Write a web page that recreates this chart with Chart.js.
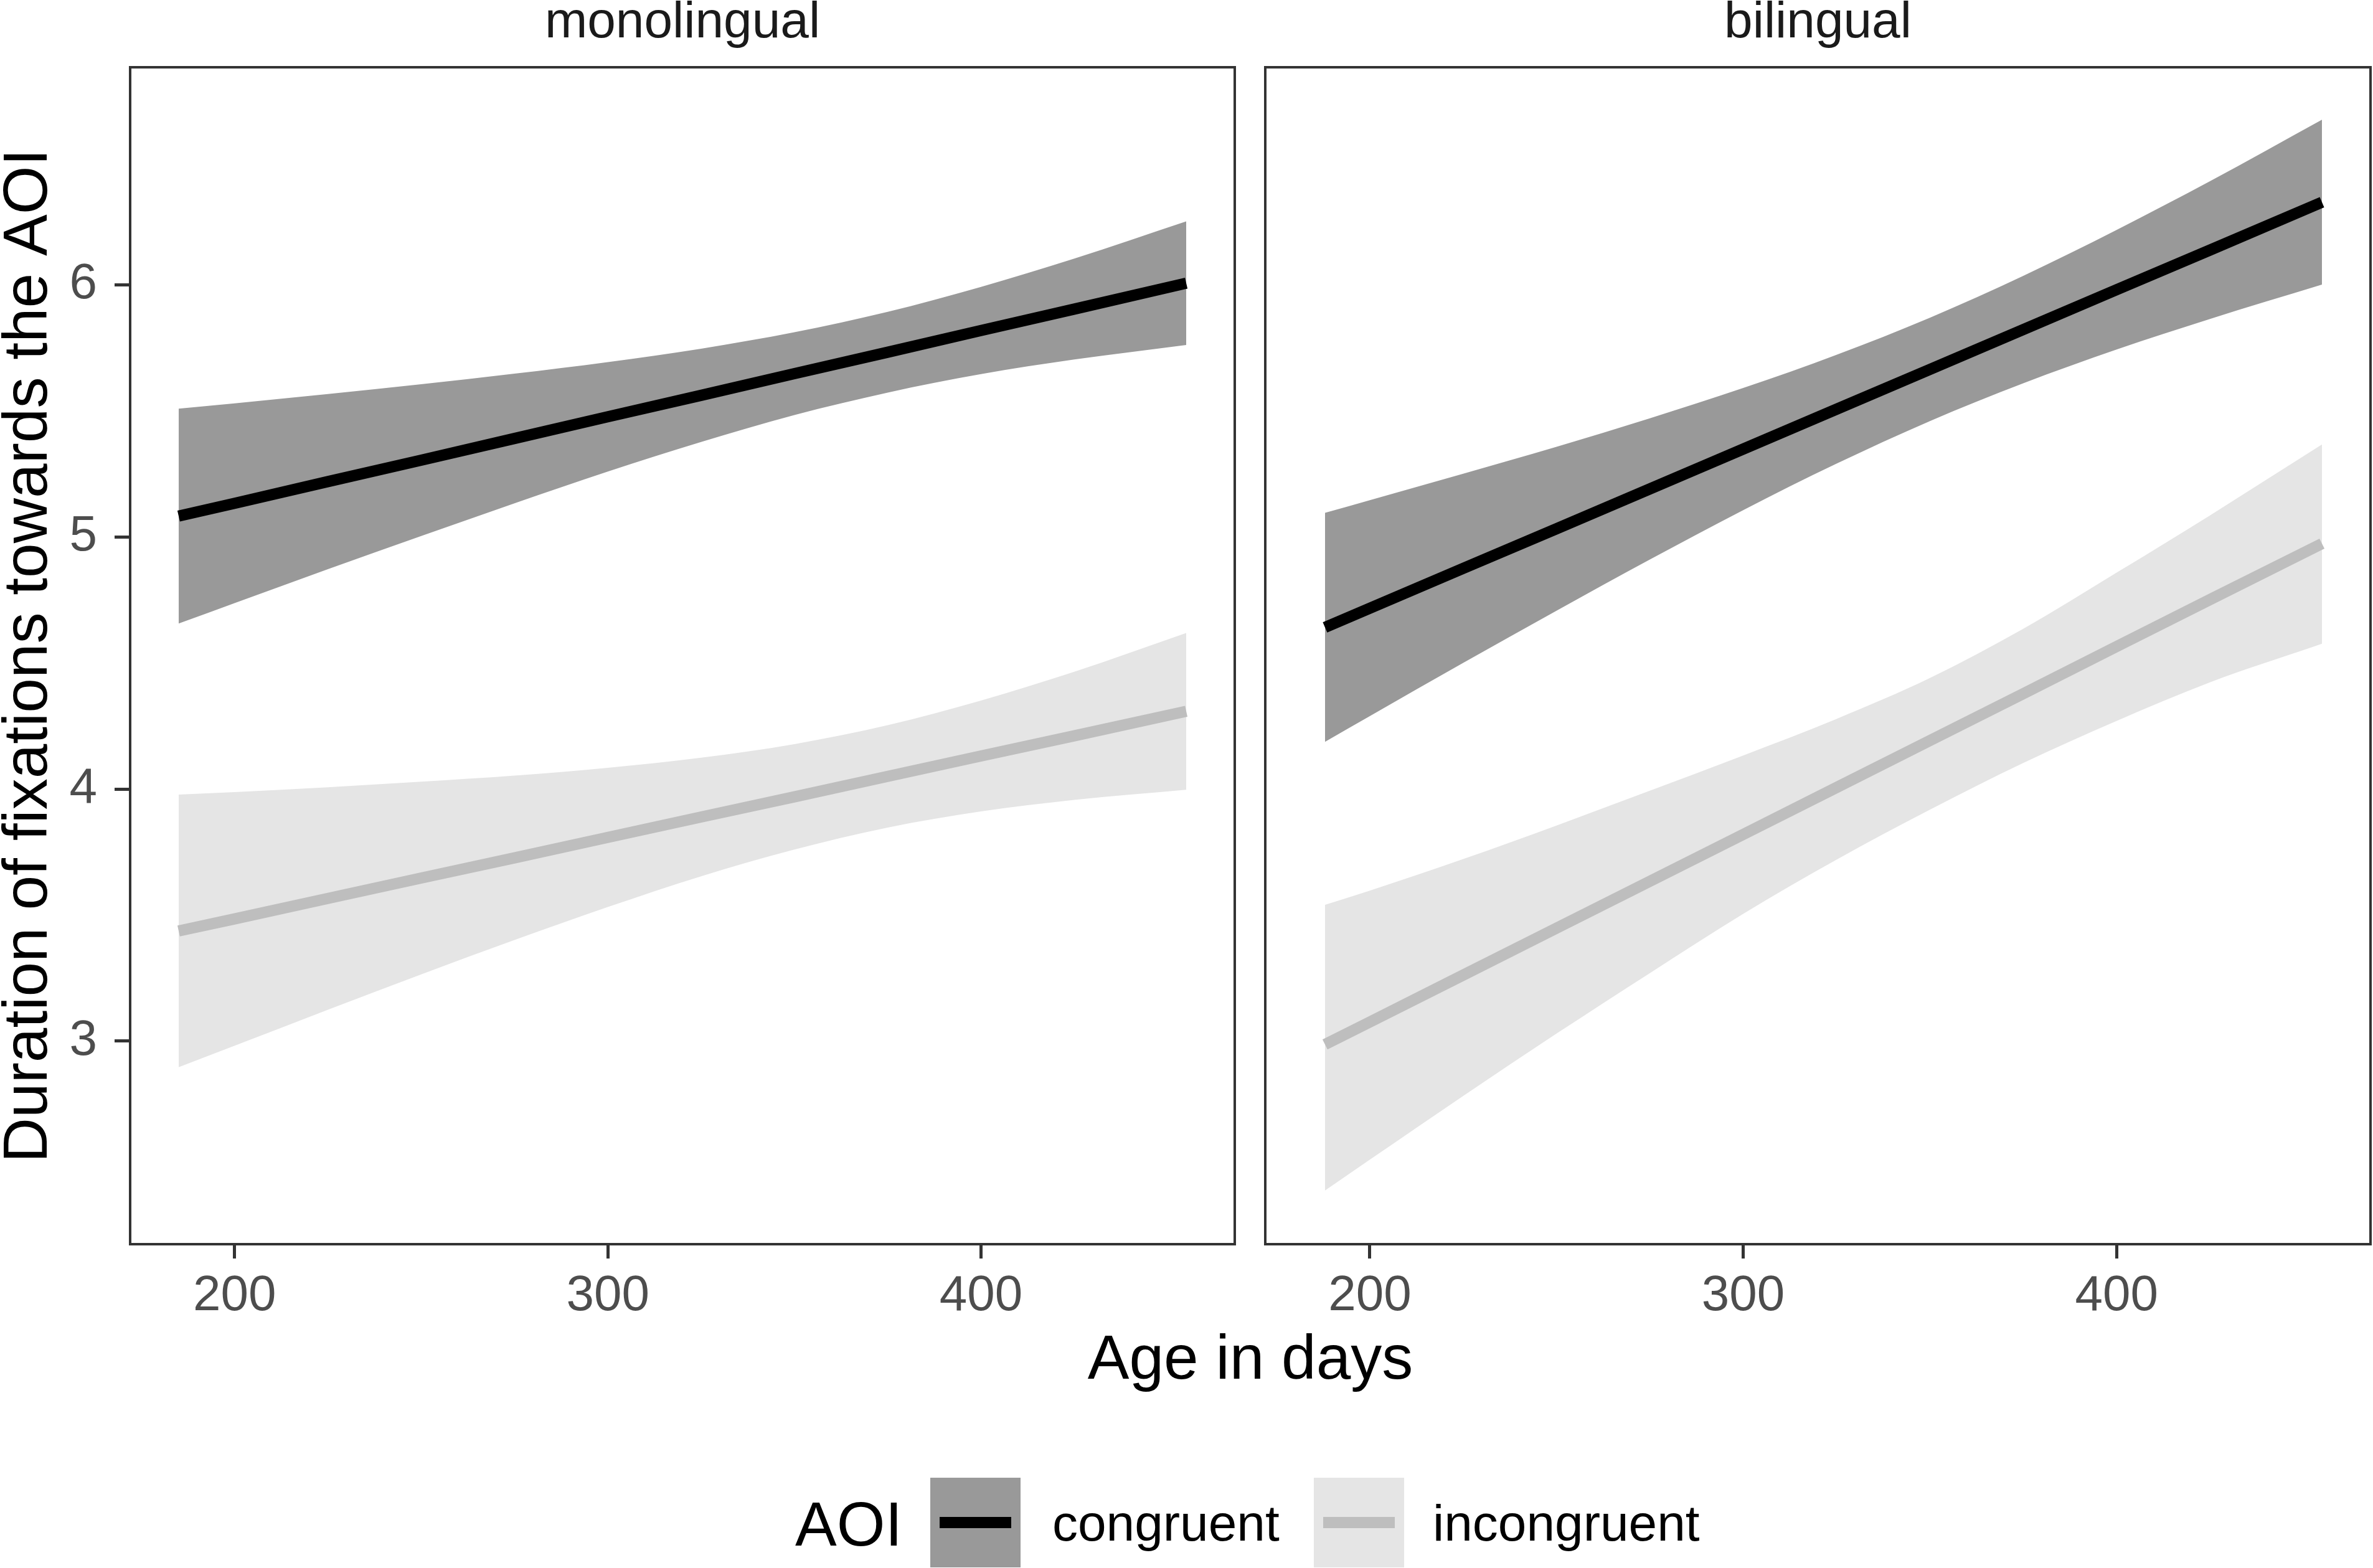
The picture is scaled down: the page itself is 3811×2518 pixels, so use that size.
<!DOCTYPE html>
<html>
<head>
  <title>Duration of fixations by age</title>
  <style>
    body { margin: 0; background: #fff; font-family: 'Liberation Sans', Arial, sans-serif; }
    #wrap { position: relative; width: 3811px; height: 2518px; overflow: hidden; background: #fff; }
    canvas { position: absolute; top: 0; }
    .txt { position: absolute; line-height: 1; white-space: nowrap; color: #000; }
    .key { position: absolute; top: 2373px; width: 145px; height: 144px; }
    .key span { position: absolute; left: 15px; top: 63px; width: 115px; height: 18px; }
  </style>
</head>
<body>
<div id="wrap">
  <canvas id="mono" width="2005" height="2110" style="left:0"></canvas>
  <canvas id="bi" width="1806" height="2110" style="left:2005px"></canvas>

  <div class="txt" style="left:2008px; top:2129px; font-size:100px; transform:translateX(-50%)">Age in days</div>

  <div class="txt" style="left:1277px; top:2397px; font-size:100px">AOI</div>
  <div class="key" style="left:1494px; background:#999999"><span style="background:#000000"></span></div>
  <div class="txt" style="left:1690px; top:2405px; font-size:82px">congruent</div>
  <div class="key" style="left:2110px; background:#E5E5E5"><span style="background:#BEBEBE"></span></div>
  <div class="txt" style="left:2301px; top:2405px; font-size:82px">incongruent</div>
</div>

<script src="https://cdn.jsdelivr.net/npm/chart.js"></script>
<script>
// axis setup
const xRange = [172, 468];
const yRange = [2.195, 6.862];
const xTicks = [200, 300, 400];
const yTicks = [3, 4, 5, 6];

// monolingual panel
const ageMono = [185, 200, 225, 250, 275, 300, 325, 350, 375, 400, 425, 455];
const monoCongFit   = [5.082, 5.133, 5.219, 5.304, 5.390, 5.476, 5.561, 5.647, 5.732, 5.818, 5.903, 6.006];
const monoCongUpper = [5.508, 5.529, 5.566, 5.605, 5.647, 5.693, 5.746, 5.811, 5.892, 5.991, 6.103, 6.251];
const monoCongLower = [4.656, 4.737, 4.872, 5.003, 5.133, 5.259, 5.376, 5.483, 5.572, 5.645, 5.703, 5.761];
const monoIncFit    = [3.437, 3.485, 3.566, 3.647, 3.727, 3.808, 3.889, 3.969, 4.050, 4.131, 4.211, 4.308];
const monoIncUpper  = [3.978, 3.988, 4.007, 4.029, 4.053, 4.084, 4.124, 4.178, 4.253, 4.351, 4.465, 4.619];
const monoIncLower  = [2.897, 2.982, 3.125, 3.265, 3.401, 3.532, 3.654, 3.760, 3.847, 3.911, 3.957, 3.997];

// bilingual panel
const ageBi = [188, 200, 225, 250, 275, 300, 325, 350, 375, 400, 425, 455];
const biCongFit   = [4.641, 4.717, 4.875, 5.032, 5.190, 5.348, 5.506, 5.664, 5.822, 5.980, 6.137, 6.327];
const biCongUpper = [5.095, 5.145, 5.250, 5.357, 5.470, 5.590, 5.722, 5.869, 6.035, 6.217, 6.410, 6.654];
const biCongLower = [4.187, 4.289, 4.500, 4.707, 4.910, 5.106, 5.290, 5.459, 5.609, 5.743, 5.864, 6.000];
const biIncFit    = [2.987, 3.076, 3.262, 3.448, 3.634, 3.820, 4.006, 4.192, 4.378, 4.565, 4.751, 4.973];
const biIncUpper  = [3.541, 3.597, 3.722, 3.855, 3.993, 4.133, 4.278, 4.440, 4.635, 4.858, 5.085, 5.366];
const biIncLower  = [2.408, 2.530, 2.783, 3.030, 3.270, 3.505, 3.720, 3.918, 4.103, 4.270, 4.423, 4.576];

const FONT = "'Liberation Sans', Arial, sans-serif";

function pts(xs, ys) {
  return xs.map((x, i) => ({ x: x, y: ys[i] }));
}

function fitLine(xs, ys, color) {
  return { data: pts(xs, ys), borderColor: color, borderWidth: 18, pointRadius: 0, fill: false, tension: 0 };
}

function band(xs, ys, color, fillTo) {
  return {
    data: pts(xs, ys), borderWidth: 0, borderColor: 'rgba(0,0,0,0)', backgroundColor: color,
    pointRadius: 0, fill: fillTo, cubicInterpolationMode: 'monotone'
  };
}

// facet strip text above the panel
const stripLabel = {
  id: 'stripLabel',
  afterDraw(chart, args, opts) {
    const { ctx, chartArea } = chart;
    ctx.save();
    ctx.font = '82px ' + FONT;
    ctx.fillStyle = '#1A1A1A';
    ctx.textAlign = 'center';
    ctx.textBaseline = 'alphabetic';
    ctx.fillText(opts.text, (chartArea.left + chartArea.right) / 2, chartArea.top - 48);
    ctx.restore();
  }
};

// panel border
const panelBox = {
  id: 'panelBox',
  afterDatasetsDraw(chart) {
    const { ctx, chartArea } = chart;
    ctx.save();
    ctx.strokeStyle = '#333333';
    ctx.lineWidth = 4;
    ctx.strokeRect(chartArea.left, chartArea.top, chartArea.right - chartArea.left, chartArea.bottom - chartArea.top);
    ctx.restore();
  }
};

function makePanel(id, strip, ages, cong, inc, withYAxis, padding) {
  const datasets = [
    fitLine(ages, cong.fit, '#000000'),
    fitLine(ages, inc.fit, '#BEBEBE'),
    band(ages, cong.upper, '#999999', '+1'),
    band(ages, cong.lower, '#999999', false),
    band(ages, inc.upper, '#E5E5E5', '+1'),
    band(ages, inc.lower, '#E5E5E5', false)
  ];

  new Chart(document.getElementById(id), {
    type: 'line',
    data: { datasets: datasets },
    plugins: [stripLabel, panelBox],
    options: {
      responsive: false,
      animation: false,
      devicePixelRatio: 1,
      layout: { padding: padding },
      plugins: {
        legend: { display: false },
        tooltip: { enabled: false },
        stripLabel: { text: strip }
      },
      scales: {
        x: {
          type: 'linear',
          min: xRange[0], max: xRange[1],
          afterBuildTicks: s => { s.ticks = xTicks.map(v => ({ value: v })); },
          afterFit: s => { s.height = 112; },
          border: { display: false },
          grid: { drawOnChartArea: false, drawTicks: true, tickLength: 23, tickWidth: 5, tickColor: '#333333' },
          ticks: { color: '#4D4D4D', padding: 13, maxRotation: 0, font: { family: FONT, size: 80 } }
        },
        y: {
          type: 'linear',
          display: withYAxis,
          min: yRange[0], max: yRange[1],
          afterBuildTicks: s => { s.ticks = yTicks.map(v => ({ value: v })); },
          afterFit: s => { s.width = withYAxis ? 209 : 0; },
          border: { display: false },
          grid: { drawOnChartArea: false, drawTicks: true, tickLength: 25, tickWidth: 5, tickColor: '#333333' },
          ticks: { color: '#4D4D4D', padding: 28, font: { family: FONT, size: 80 } },
          title: {
            display: true,
            text: 'Duration of fixations towards the AOI',
            color: '#000000',
            padding: 0,
            font: { family: FONT, size: 100, lineHeight: 0.94 }
          }
        }
      }
    }
  });
}

makePanel('mono', 'monolingual', ageMono,
  { fit: monoCongFit, upper: monoCongUpper, lower: monoCongLower },
  { fit: monoIncFit, upper: monoIncUpper, lower: monoIncLower },
  true, { left: 0, top: 108, right: 22, bottom: 0 });

makePanel('bi', 'bilingual', ageBi,
  { fit: biCongFit, upper: biCongUpper, lower: biCongLower },
  { fit: biIncFit, upper: biIncUpper, lower: biIncLower },
  false, { left: 27, top: 108, right: 4, bottom: 0 });
</script>
</body>
</html>
